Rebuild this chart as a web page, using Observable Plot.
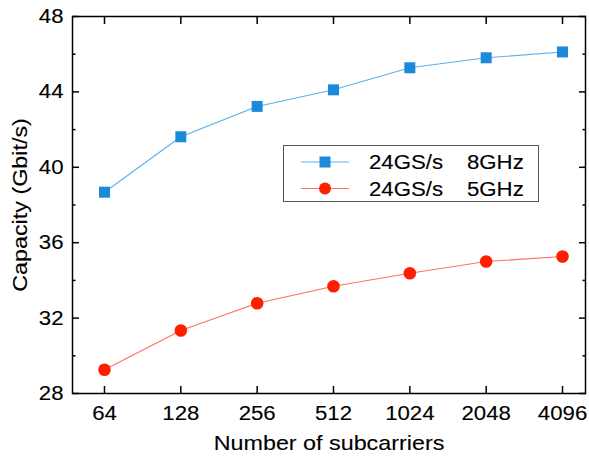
<!DOCTYPE html>
<html>
<head>
<meta charset="utf-8">
<script src="https://cdn.jsdelivr.net/npm/d3@7"></script>
<script src="https://cdn.jsdelivr.net/npm/@observablehq/plot@0.6"></script>
<style>
  html, body { margin: 0; padding: 0; background: #fff; }
  #wrap { position: relative; width: 589px; height: 460px; font-family: "Liberation Sans", Arial, sans-serif; }
  #wrap svg { display: block; }
  #wrap svg text { font-size: 20px; fill: #000; stroke: #000; stroke-width: 0.12px; }
  #wrap svg text.title { font-size: 21px; }
  #legend { position: absolute; left: 0; top: 0; pointer-events: none; }
</style>
</head>
<body>
<div id="wrap"></div>
<script>
// ---- data ----
const subcarriers = [64, 128, 256, 512, 1024, 2048, 4096];
const cap8GHz = [38.68, 41.62, 43.23, 44.11, 45.28, 45.81, 46.12];
const cap5GHz = [29.26, 31.34, 32.79, 33.69, 34.38, 35.00, 35.27];
const seriesRate = ["24GS/s", "24GS/s"];
const seriesBand = ["8GHz", "5GHz"];
const yMajor = [28, 32, 36, 40, 44, 48];
const yMinor = [30, 34, 38, 42, 46];
const xTitle = "Number of subcarriers";
const yTitle = "Capacity (Gbit/s)";

const markerColor = ["#1a8ad9", "#ff1f00"];
const lineColor = ["#5cb0ec", "#ff7060"];

const blue = subcarriers.map((n, i) => ({n, v: cap8GHz[i]}));
const red = subcarriers.map((n, i) => ({n, v: cap5GHz[i]}));

const FONT = "'Liberation Sans', Arial, sans-serif";
const SW = 1.5;

const chart = Plot.plot({
  width: 589,
  height: 460,
  marginLeft: 72,
  marginRight: 4,
  marginTop: 16,
  marginBottom: 67,
  style: {fontFamily: FONT, fontSize: "20px", color: "#000", background: "#fff"},
  x: {type: "log", base: 2, domain: [Math.pow(2, 5.581), Math.pow(2, 12.301)]},
  y: {domain: [28, 48]},
  marks: [
    // inward ticks
    Plot.axisX({anchor: "bottom", ticks: subcarriers, tickSize: 7, dy: -7, tickFormat: () => "", strokeWidth: SW, label: null}),
    Plot.axisX({anchor: "top", ticks: subcarriers, tickSize: 7, dy: 7, tickFormat: () => "", strokeWidth: SW, label: null}),
    Plot.axisY({anchor: "left", ticks: yMajor, tickSize: 7, dx: 7, tickFormat: () => "", strokeWidth: SW, label: null}),
    Plot.axisY({anchor: "left", ticks: yMinor, tickSize: 3.5, dx: 3.5, tickFormat: () => "", strokeWidth: SW, label: null}),
    Plot.axisY({anchor: "right", ticks: yMajor, tickSize: 7, dx: -7, tickFormat: () => "", strokeWidth: SW, label: null}),
    Plot.axisY({anchor: "right", ticks: yMinor, tickSize: 3.5, dx: -3.5, tickFormat: () => "", strokeWidth: SW, label: null}),
    // labels
    Plot.axisX({anchor: "bottom", ticks: subcarriers, tickSize: 0, tickPadding: 12, tickFormat: d => String(d),
      label: xTitle, labelAnchor: "center", labelOffset: 56, labelArrow: false}),
    Plot.axisY({anchor: "left", ticks: yMajor, tickSize: 0, tickPadding: 9, tickFormat: d => String(d),
      label: yTitle, labelAnchor: "center", labelOffset: 60, labelArrow: false}),
    Plot.frame({stroke: "#000", strokeWidth: SW}),
    Plot.line(blue, {x: "n", y: "v", stroke: lineColor[0], strokeWidth: 1.1}),
    Plot.line(red, {x: "n", y: "v", stroke: lineColor[1], strokeWidth: 1.1}),
    Plot.dot(blue, {x: "n", y: "v", symbol: "square", r: 6.2, fill: markerColor[0], stroke: "none"}),
    Plot.dot(red, {x: "n", y: "v", symbol: "circle", r: 6.3, fill: markerColor[1], stroke: "none"})
  ]
});

const wrap = document.getElementById("wrap");
wrap.appendChild(chart);

// ---- legend overlay (inside plot area) ----
const ns = "http://www.w3.org/2000/svg";
const lg = document.createElementNS(ns, "svg");
lg.setAttribute("id", "legend");
lg.setAttribute("width", 589);
lg.setAttribute("height", 460);
lg.setAttribute("font-family", FONT);
const box = document.createElementNS(ns, "rect");
box.setAttribute("x", 283.5); box.setAttribute("y", 145.5);
box.setAttribute("width", 255); box.setAttribute("height", 56);
box.setAttribute("fill", "#fff"); box.setAttribute("stroke", "#555"); box.setAttribute("stroke-width", 1);
lg.appendChild(box);
const rowY = [162, 188.5];
seriesRate.forEach((rate, i) => {
  const y = rowY[i];
  const ln = document.createElementNS(ns, "line");
  ln.setAttribute("x1", 301); ln.setAttribute("x2", 349);
  ln.setAttribute("y1", y); ln.setAttribute("y2", y);
  ln.setAttribute("stroke", lineColor[i]); ln.setAttribute("stroke-width", 1.1);
  lg.appendChild(ln);
  let m;
  if (i === 0) {
    m = document.createElementNS(ns, "rect");
    m.setAttribute("x", 325 - 5.5); m.setAttribute("y", y - 5.5);
    m.setAttribute("width", 11); m.setAttribute("height", 11);
  } else {
    m = document.createElementNS(ns, "circle");
    m.setAttribute("cx", 325); m.setAttribute("cy", y); m.setAttribute("r", 6);
  }
  m.setAttribute("fill", markerColor[i]);
  lg.appendChild(m);
  const t1 = document.createElementNS(ns, "text");
  t1.setAttribute("x", 369); t1.setAttribute("y", y + 7);
  t1.textContent = rate;
  lg.appendChild(t1);
  const t2 = document.createElementNS(ns, "text");
  t2.setAttribute("x", 467); t2.setAttribute("y", y + 7);
  t2.textContent = seriesBand[i];
  lg.appendChild(t2);
});
wrap.appendChild(lg);

// axis titles slightly larger
wrap.querySelectorAll("text").forEach(t => {
  const s = t.textContent.trim();
  if (s === xTitle || s === yTitle) t.classList.add("title");
});

// widen glyphs slightly to match reference typeface proportions
const K = 1.11;
wrap.querySelectorAll("text").forEach(t => {
  if (!t.textContent.trim()) return;
  const w = t.getComputedTextLength();
  if (w > 0) {
    t.setAttribute("textLength", (w * K).toFixed(2));
    t.setAttribute("lengthAdjust", "spacingAndGlyphs");
  }
});
</script>
</body>
</html>
